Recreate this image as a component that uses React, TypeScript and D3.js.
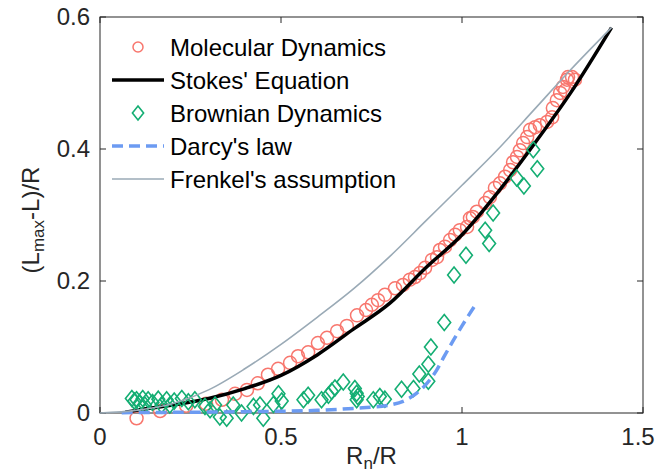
import React from "react";
import * as d3 from "d3";

const xTicks = [0, 0.5, 1, 1.5];
const yTicks = [0, 0.2, 0.4, 0.6];

const mdX = [0.101,0.166,0.238,0.293,0.337,0.373,0.406,0.436,0.464,0.492,0.525,0.547,0.575,0.602,0.627,0.655,0.682,0.710,0.735,0.751,0.768,0.787,0.815,0.837,0.856,0.870,0.884,0.898,0.917,0.931,0.939,0.953,0.967,0.981,0.994,1.014,1.022,1.030,1.041,1.064,1.077,1.091,1.105,1.119,1.133,1.141,1.152,1.160,1.169,1.180,1.188,1.202,1.215,1.235,1.249,1.251,1.262,1.271,1.279,1.285,1.290,1.293,1.304,1.312];
const mdY = [-0.008,0.003,0.011,0.014,0.020,0.029,0.035,0.045,0.058,0.067,0.076,0.086,0.092,0.106,0.114,0.124,0.132,0.148,0.156,0.164,0.171,0.179,0.189,0.194,0.202,0.206,0.212,0.220,0.232,0.236,0.247,0.252,0.262,0.270,0.277,0.282,0.295,0.297,0.305,0.318,0.327,0.341,0.348,0.358,0.368,0.380,0.388,0.398,0.409,0.418,0.429,0.433,0.436,0.441,0.448,0.462,0.474,0.485,0.494,0.489,0.505,0.509,0.509,0.505];

const stokesX = [0.07,0.1,0.2,0.3,0.4,0.5,0.6,0.7,0.8,0.9,1.0,1.1,1.2,1.3,1.413];
const stokesY = [0.001,0.004,0.012,0.022,0.037,0.057,0.088,0.127,0.166,0.22,0.27,0.335,0.408,0.485,0.584];

const bdX = [0.088,0.095,0.101,0.110,0.118,0.124,0.133,0.145,0.161,0.170,0.184,0.193,0.205,0.226,0.244,0.262,0.290,0.304,0.318,0.331,0.350,0.368,0.391,0.424,0.442,0.451,0.479,0.493,0.502,0.562,0.575,0.612,0.631,0.640,0.649,0.672,0.704,0.709,0.709,0.712,0.755,0.773,0.787,0.833,0.866,0.882,0.907,0.907,0.914,0.951,0.978,1.011,1.064,1.075,1.086,1.151,1.171,1.197,1.208];
const bdY = [0.022,0.018,0.020,0.015,0.022,0.012,0.020,0.016,0.021,0.012,0.020,0.012,0.018,0.022,0.017,0.020,0.010,0.005,0.012,-0.006,-0.008,0.012,0.000,0.010,0.012,-0.008,0.013,0.029,0.018,0.020,0.027,0.020,0.027,0.033,0.038,0.047,0.037,0.030,0.020,0.025,0.020,0.025,0.021,0.036,0.037,0.059,0.048,0.074,0.100,0.137,0.209,0.239,0.277,0.257,0.303,0.356,0.344,0.399,0.370];

const darcyX = [0.06,0.2,0.4,0.6,0.7,0.8,0.85,0.875,0.9,0.93,0.95,0.976,1.0,1.036];
const darcyY = [0.0005,0.001,0.002,0.004,0.007,0.012,0.021,0.03,0.043,0.065,0.085,0.11,0.132,0.163];

const frenkelX = [0,0.1,0.2,0.3,0.4,0.5,0.6,0.7,0.8,0.9,1.0,1.1,1.2,1.3,1.413];
const frenkelY = [0,0.004,0.014,0.035,0.067,0.104,0.145,0.188,0.237,0.291,0.345,0.40,0.46,0.52,0.584];

const legendLabels = ["Molecular Dynamics","Stokes' Equation","Brownian Dynamics","Darcy's law","Frenkel's assumption"];

const W = 656, H = 475;
const left = 100, right = 643, top = 17, bottom = 413;
const FONT = "'Liberation Sans', Arial, Helvetica, sans-serif";
const C_MD = "#F8766D";
const C_BD = "#14AE73";
const C_DARCY = "#6C9BF2";
const C_FRENKEL = "#9AAAB6";
const AX = "#262626";

export default function App() {
  const x = d3.scaleLinear().domain([0, 1.5]).range([left, right]);
  const y = d3.scaleLinear().domain([0, 0.6]).range([bottom, top]);
  const line = d3.line<[number, number]>().x(d => x(d[0])).y(d => y(d[1])).curve(d3.curveMonotoneX);
  const stokes = line(stokesX.map((v, i) => [v, stokesY[i]]))!;
  const darcy = line(darcyX.map((v, i) => [v, darcyY[i]]))!;
  const frenkel = line(frenkelX.map((v, i) => [v, frenkelY[i]]))!;
  const tl = 6;
  const diamond = (cx: number, cy: number, r: number) => `M${cx},${cy - r}L${cx + r * 0.8},${cy}L${cx},${cy + r}L${cx - r * 0.8},${cy}Z`;
  const legY = [47, 80, 113, 146, 179];
  const lx0 = 112, lx1 = 164, lxm = 138, ltx = 170;

  return (
    <svg width={W} height={H} style={{ position: "absolute", left: 0, top: 0, background: "#fff" }} fontFamily={FONT}>
      <rect x={0} y={0} width={W} height={H} fill="#fff" />
      <rect x={left} y={top} width={right - left} height={bottom - top} fill="none" stroke={AX} strokeWidth={1} />
      {xTicks.map((t, i) => (
        <g key={"xt" + t}>
          <line x1={x(t)} x2={x(t)} y1={bottom} y2={bottom - tl} stroke={AX} />
          <line x1={x(t)} x2={x(t)} y1={top} y2={top + tl} stroke={AX} />
          <text x={i === xTicks.length - 1 ? Math.min(x(t), W - 18) : x(t)} y={bottom + 32} textAnchor="middle" fontSize={24} fill={AX}>{String(t)}</text>
        </g>
      ))}
      {yTicks.map(t => (
        <g key={"yt" + t}>
          <line x1={left} x2={left + tl} y1={y(t)} y2={y(t)} stroke={AX} />
          <line x1={right} x2={right - tl} y1={y(t)} y2={y(t)} stroke={AX} />
          <text x={left - 10} y={y(t) + 8} textAnchor="end" fontSize={24} fill={AX}>{String(t)}</text>
        </g>
      ))}
      <text x={(left + right) / 2} y={464} textAnchor="middle" fontSize={24} fill={AX}>
        R<tspan fontSize={17} dy={5}>n</tspan><tspan dy={-5}>/R</tspan>
      </text>
      <text transform={`translate(39,220) rotate(-90)`} textAnchor="middle" fontSize={24} fill={AX}>
        (L<tspan fontSize={17} dy={5}>max</tspan><tspan dy={-5}>-L)/R</tspan>
      </text>

      {mdX.map((v, i) => (
        <circle key={"md" + i} cx={x(v)} cy={y(mdY[i])} r={6.5} fill="none" stroke={C_MD} strokeWidth={1.5} />
      ))}
      <path d={stokes} fill="none" stroke="#000" strokeWidth={3.5} />
      {bdX.map((v, i) => (
        <path key={"bd" + i} d={diamond(x(v), y(bdY[i]), 8)} fill="none" stroke={C_BD} strokeWidth={1.6} />
      ))}
      <path d={darcy} fill="none" stroke={C_DARCY} strokeWidth={3.5} strokeDasharray="11,6" />
      <path d={frenkel} fill="none" stroke={C_FRENKEL} strokeWidth={1.6} />

      <circle cx={lxm} cy={legY[0]} r={5} fill="none" stroke={C_MD} strokeWidth={1.5} />
      <line x1={lx0} x2={lx1} y1={legY[1]} y2={legY[1]} stroke="#000" strokeWidth={3.5} />
      <path d={diamond(lxm, legY[2], 7)} fill="none" stroke={C_BD} strokeWidth={1.6} />
      <line x1={lx0} x2={lx1} y1={legY[3]} y2={legY[3]} stroke={C_DARCY} strokeWidth={3.5} strokeDasharray="11,6" />
      <line x1={lx0} x2={lx1} y1={legY[4]} y2={legY[4]} stroke={C_FRENKEL} strokeWidth={1.6} />
      {legendLabels.map((s, i) => (
        <text key={s} x={ltx} y={legY[i] + 9} fontSize={24} fill="#000">{s}</text>
      ))}
    </svg>
  );
}
